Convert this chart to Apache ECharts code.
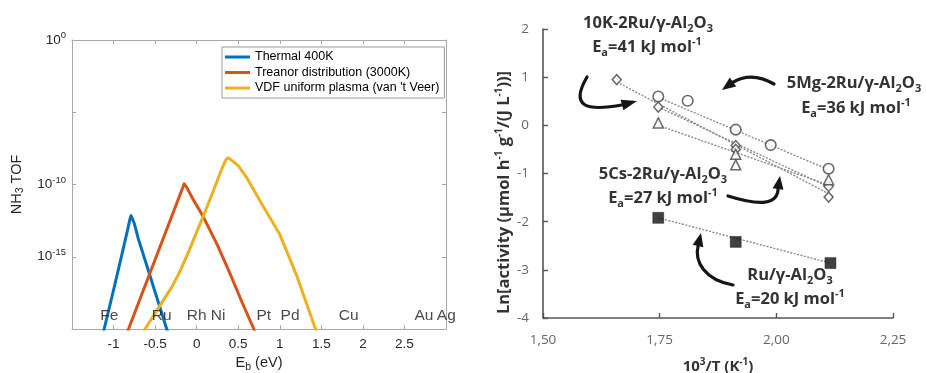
<!DOCTYPE html>
<html><head><meta charset="utf-8">
<script src="https://cdn.jsdelivr.net/npm/echarts@6/dist/echarts.min.js"></script>
<style>html,body{margin:0;padding:0;background:#fff}#c{width:926px;height:373px}</style>
</head><body><div id="c"></div>
<script>
// ---------- Left panel data (E_b in eV, log10 of NH3 TOF) ----------
const thermalEb     = [-1.20, -1.113, -1.0, -0.9, -0.83, -0.805, -0.79, -0.775, -0.75, -0.7, -0.6, -0.5, -0.36, -0.3];
const thermalLogTOF = [-22.1, -20.0, -17.3, -14.85, -13.1, -12.45, -12.15, -12.35, -12.7, -13.8, -15.6, -17.45, -20.0, -21.1];
const treanorEb     = [-0.9, -0.82, -0.6, -0.4, -0.25, -0.18, -0.15, -0.12, -0.05, 0.08, 0.25, 0.4, 0.55, 0.688, 0.8];
const treanorLogTOF = [-21.2, -20.0, -16.7, -13.7, -11.45, -10.4, -9.95, -10.2, -10.95, -12.24, -14.2, -16.15, -18.2, -20.0, -21.5];
const vdfEb         = [-0.75, -0.62, -0.5, -0.4, -0.3, -0.2, -0.1, 0.0, 0.1, 0.2, 0.3, 0.35, 0.375, 0.4, 0.5, 0.6, 0.8, 1.0, 1.2, 1.42, 1.5];
const vdfLogTOF     = [-21.3, -20.0, -18.9, -18.0, -17.1, -16.0, -14.7, -13.3, -11.9, -10.45, -8.95, -8.3, -8.15, -8.22, -8.7, -9.5, -11.5, -13.45, -16.25, -19.85, -21.0];
const seriesNames   = ['Thermal 400K', 'Treanor distribution (3000K)', 'VDF uniform plasma (van \'t Veer)'];
const elementNames  = ['Fe', 'Ru', 'Rh', 'Ni', 'Pt', 'Pd', 'Cu', 'Au', 'Ag'];
const elementEb     = [-1.16, -0.54, -0.12, 0.17, 0.72, 1.01, 1.71, 2.62, 2.89];
const elementLabelLogTOF = -19.1;
const leftYLabelled = [0, -10, -15];

// ---------- Right panel data (10^3/T, ln activity) ----------
const mgX  = [1.747, 1.81, 1.913, 1.988, 2.112];
const mgY  = [0.60, 0.51, -0.09, -0.41, -0.90];
const kX   = [1.658, 1.747, 1.913, 2.112];
const kY   = [0.95, 0.38, -0.42, -1.49];
const k2X  = [1.913, 2.112];
const k2Y  = [-0.50, -1.27];
const csX  = [1.747, 1.913, 1.913, 2.112];
const csY  = [0.05, -0.60, -0.82, -1.13];
const ruX  = [1.747, 1.913, 2.116];
const ruY  = [-1.92, -2.42, -2.86];
// trend lines (end points)
const mgFitX = [1.747, 2.112], mgFitY = [0.58, -0.92];
const kFitX  = [1.658, 2.112], kFitY  = [0.90, -1.42];
const k2FitX = [1.747, 2.112], k2FitY = [0.38, -1.28];
const csFitX = [1.747, 2.112], csFitY = [0.0, -1.24];
const ruFitX = [1.747, 2.116], ruFitY = [-1.92, -2.86];

const zip = (a, b) => a.map((x, i) => [x, b[i]]);
const LF = 'Liberation Sans, Arial, sans-serif';
const RF = 'Open Sans, sans-serif';
const frameColor = '#a8a8a8';
const tickTxt = '#262626';

const chart = echarts.init(document.getElementById('c'), null, {renderer: 'canvas'});

function leftAxisCommon() {
  return {
    axisLine: {show: true, onZero: false, lineStyle: {color: frameColor, width: 1}},
    axisTick: {show: true, inside: true, length: 4, lineStyle: {color: frameColor}},
    splitLine: {show: false}
  };
}
function rightAxisCommon() {
  return {
    axisLine: {show: true, onZero: false, lineStyle: {color: '#555', width: 1.6}},
    axisTick: {show: true, inside: true, length: 5, lineStyle: {color: '#555', width: 1.4}},
    splitLine: {show: false}
  };
}

const annRich = {
  b:   {fontFamily: RF, fontWeight: 'bold', fontSize: 16.5, fill: '#333', lineHeight: 22},
  sub: {fontFamily: RF, fontWeight: 'bold', fontSize: 11, fill: '#333', verticalAlign: 'bottom', lineHeight: 11},
  sup: {fontFamily: RF, fontWeight: 'bold', fontSize: 11, fill: '#333', verticalAlign: 'top', lineHeight: 11}
};
function ann(x, y, text) {
  return {type: 'text', x: x, y: y, z: 50,
    style: {text: text, rich: annRich, align: 'center', verticalAlign: 'middle', fill: '#333',
            font: 'bold 16.5px ' + RF}};
}
function arrow(s, c1, c2, e, tip) {
  const dx = tip[0] - e[0], dy = tip[1] - e[1];
  const L = Math.hypot(dx, dy), ux = dx / L, uy = dy / L;
  const w = 5.5;
  return [
    {type: 'bezierCurve', z: 50, shape: {x1: s[0], y1: s[1], cpx1: c1[0], cpy1: c1[1], cpx2: c2[0], cpy2: c2[1], x2: e[0] + ux, y2: e[1] + uy},
     style: {stroke: '#151515', lineWidth: 3.2, fill: 'none', lineCap: 'round'}},
    {type: 'polygon', z: 50, shape: {points: [[tip[0], tip[1]], [e[0] - uy * w, e[1] + ux * w], [e[0] + uy * w, e[1] - ux * w]]},
     style: {fill: '#151515'}}
  ];
}

const option = {
  animation: false,
  backgroundColor: '#fff',
  grid: [
    {left: 72, top: 40, width: 374, height: 289, outerBoundsMode: 'none', containLabel: false},
    {left: 543, top: 29, width: 350, height: 289, outerBoundsMode: 'none', containLabel: false}
  ],
  legend: {
    data: seriesNames, orient: 'vertical', left: 222, top: 47,
    backgroundColor: '#fff', borderColor: '#9a9a9a', borderWidth: 1,
    padding: [3, 5, 3, 3], itemWidth: 25, itemHeight: 3, itemGap: 1.5, icon: 'rect',
    textStyle: {fontFamily: LF, fontSize: 12.5, color: '#000', lineHeight: 14},
    selectedMode: false
  },
  xAxis: [
    Object.assign(leftAxisCommon(), {
      gridIndex: 0, type: 'value', min: -1.5, max: 3, interval: 0.5,
      name: '{b|E}{s|b}{b| (eV)}', nameLocation: 'middle', nameGap: 25,
      nameTextStyle: {rich: {b: {fontFamily: LF, fontSize: 14.5, color: tickTxt}, s: {fontFamily: LF, fontSize: 10.5, color: tickTxt, verticalAlign: 'bottom', padding: [7, 0, 0, 0]}}},
      axisLabel: {fontFamily: LF, fontSize: 13.5, color: tickTxt, margin: 8,
        formatter: v => (v <= -1.5 || v >= 3) ? '' : String(v)}
    }),
    Object.assign(leftAxisCommon(), {
      gridIndex: 0, type: 'value', position: 'top', min: -1.5, max: 3, interval: 0.5,
      axisLabel: {show: false}
    }),
    Object.assign(rightAxisCommon(), {
      gridIndex: 1, type: 'value', min: 1.5, max: 2.25, interval: 0.25,
      name: '{b|10}{s|3}{b|/T (K}{s|-1}{b|)}', nameLocation: 'middle', nameGap: 39,
      nameTextStyle: {rich: {
        b: {fontFamily: RF, fontWeight: 'bold', fontSize: 15, color: '#333', lineHeight: 20},
        s: {fontFamily: RF, fontWeight: 'bold', fontSize: 10, color: '#333', verticalAlign: 'top', lineHeight: 11}}},
      axisLabel: {fontFamily: RF, fontSize: 13.5, color: '#666', margin: 15,
        formatter: v => v.toFixed(2).replace('.', ',')}
    })
  ],
  yAxis: [
    Object.assign(leftAxisCommon(), {
      gridIndex: 0, type: 'value', min: -20, max: 0, interval: 5,
      name: '{b|NH}{s|3}{b| TOF}', nameLocation: 'middle', nameGap: 46, nameRotate: 90,
      nameTextStyle: {rich: {b: {fontFamily: LF, fontSize: 14.5, color: tickTxt}, s: {fontFamily: LF, fontSize: 10.5, color: tickTxt, verticalAlign: 'bottom', padding: [7, 0, 0, 0]}}},
      axisLabel: {margin: 6,
        formatter: v => leftYLabelled.includes(v) ? '{b|10}{s|' + v + '}' : '',
        rich: {b: {fontFamily: LF, fontSize: 13.5, color: tickTxt, lineHeight: 19},
               s: {fontFamily: LF, fontSize: 9.5, color: tickTxt, verticalAlign: 'top', lineHeight: 10}}}
    }),
    Object.assign(leftAxisCommon(), {
      gridIndex: 0, type: 'value', position: 'right', min: -20, max: 0, interval: 5,
      axisLabel: {show: false}
    }),
    Object.assign(rightAxisCommon(), {
      gridIndex: 1, type: 'value', min: -4, max: 2, interval: 1,
      name: '{b|Ln[activity (μmol h}{s|-1}{b| g}{s|-1}{b|/(J L}{s|-1}{b|))]}',
      nameLocation: 'middle', nameGap: 27, nameRotate: 90,
      nameTextStyle: {padding: [0, 38, 0, 0], rich: {
        b: {fontFamily: RF, fontWeight: 'bold', fontSize: 16.5, color: '#333', lineHeight: 21},
        s: {fontFamily: RF, fontWeight: 'bold', fontSize: 10, color: '#333', verticalAlign: 'top', lineHeight: 11}}},
      axisLabel: {fontFamily: RF, fontSize: 13.5, color: '#666', margin: 14}
    })
  ],
  series: [
    {name: seriesNames[0], type: 'line', xAxisIndex: 0, yAxisIndex: 0, data: zip(thermalEb, thermalLogTOF),
     showSymbol: false, lineStyle: {color: '#0072BD', width: 3, join: 'round'}, itemStyle: {color: '#0072BD'}, z: 3},
    {name: seriesNames[1], type: 'line', xAxisIndex: 0, yAxisIndex: 0, data: zip(treanorEb, treanorLogTOF),
     showSymbol: false, lineStyle: {color: '#D95319', width: 3, join: 'round'}, itemStyle: {color: '#D95319'}, z: 3},
    {name: seriesNames[2], type: 'line', xAxisIndex: 0, yAxisIndex: 0, data: zip(vdfEb, vdfLogTOF),
     showSymbol: false, lineStyle: {color: '#EDB120', width: 3, join: 'round'}, itemStyle: {color: '#EDB120'}, z: 3},
    {type: 'scatter', xAxisIndex: 0, yAxisIndex: 0, symbolSize: 0, silent: true, z: 5,
     data: elementEb.map((x, i) => ({value: [x, elementLabelLogTOF], name: elementNames[i]})),
     label: {show: true, position: 'right', distance: 0, formatter: '{b}', fontFamily: LF, fontSize: 15.5, color: '#1a1a1a'}},

    // right panel trend lines
    ...[[mgFitX, mgFitY], [kFitX, kFitY], [k2FitX, k2FitY], [csFitX, csFitY], [ruFitX, ruFitY]].map(p => ({
      type: 'line', xAxisIndex: 2, yAxisIndex: 2, data: zip(p[0], p[1]), showSymbol: false, silent: true, z: 2,
      lineStyle: {color: '#8a8a8a', width: 1.4, type: [2, 1.5]}
    })),
    // right panel markers
    {type: 'scatter', xAxisIndex: 2, yAxisIndex: 2, data: zip(mgX, mgY), symbol: 'circle', symbolSize: 10.5, z: 4,
     itemStyle: {color: '#fff', borderColor: '#444', borderWidth: 1.6}},
    {type: 'scatter', xAxisIndex: 2, yAxisIndex: 2, data: zip(kX, kY), symbol: 'diamond', symbolSize: [9, 10], z: 4,
     itemStyle: {color: '#fff', borderColor: '#444', borderWidth: 1.5}},
    {type: 'scatter', xAxisIndex: 2, yAxisIndex: 2, data: zip(k2X, k2Y), symbol: 'diamond', symbolSize: [9, 10], z: 4,
     itemStyle: {color: '#fff', borderColor: '#444', borderWidth: 1.5}},
    {type: 'scatter', xAxisIndex: 2, yAxisIndex: 2, data: zip(csX, csY), symbol: 'triangle', symbolSize: 10, z: 4,
     itemStyle: {color: '#fff', borderColor: '#444', borderWidth: 1.5}},
    {type: 'scatter', xAxisIndex: 2, yAxisIndex: 2, data: zip(ruX, ruY), symbol: 'rect', symbolSize: 11, z: 4,
     itemStyle: {color: '#111', borderColor: '#111', borderWidth: 0.5}}
  ],
  graphic: [
    ann(648, 23, '{b|10K-2Ru/γ-Al}{sub|2}{b|O}{sub|3}'),
    ann(647, 47, '{b|E}{sub|a}{b|=41 kJ mol}{sup|-1}'),
    ann(854, 83, '{b|5Mg-2Ru/γ-Al}{sub|2}{b|O}{sub|3}'),
    ann(856, 108, '{b|E}{sub|a}{b|=36 kJ mol}{sup|-1}'),
    ann(663, 174, '{b|5Cs-2Ru/γ-Al}{sub|2}{b|O}{sub|3}'),
    ann(663, 198, '{b|E}{sub|a}{b|=27 kJ mol}{sup|-1}'),
    ann(790, 275, '{b|Ru/γ-Al}{sub|2}{b|O}{sub|3}'),
    ann(790, 299, '{b|E}{sub|a}{b|=20 kJ mol}{sup|-1}'),
    ...arrow([587, 77], [570, 106], [585, 112], [622, 105], [637, 101]),
    ...arrow([774, 84], [760, 76], [745, 75], [733, 82], [722, 90]),
    ...arrow([728, 196], [760, 206], [778, 205], [778, 189], [780, 176]),
    ...arrow([733, 285], [705, 280], [694, 262], [698, 246], [701, 233])
  ]
};
chart.setOption(option);
</script>
</body></html>
